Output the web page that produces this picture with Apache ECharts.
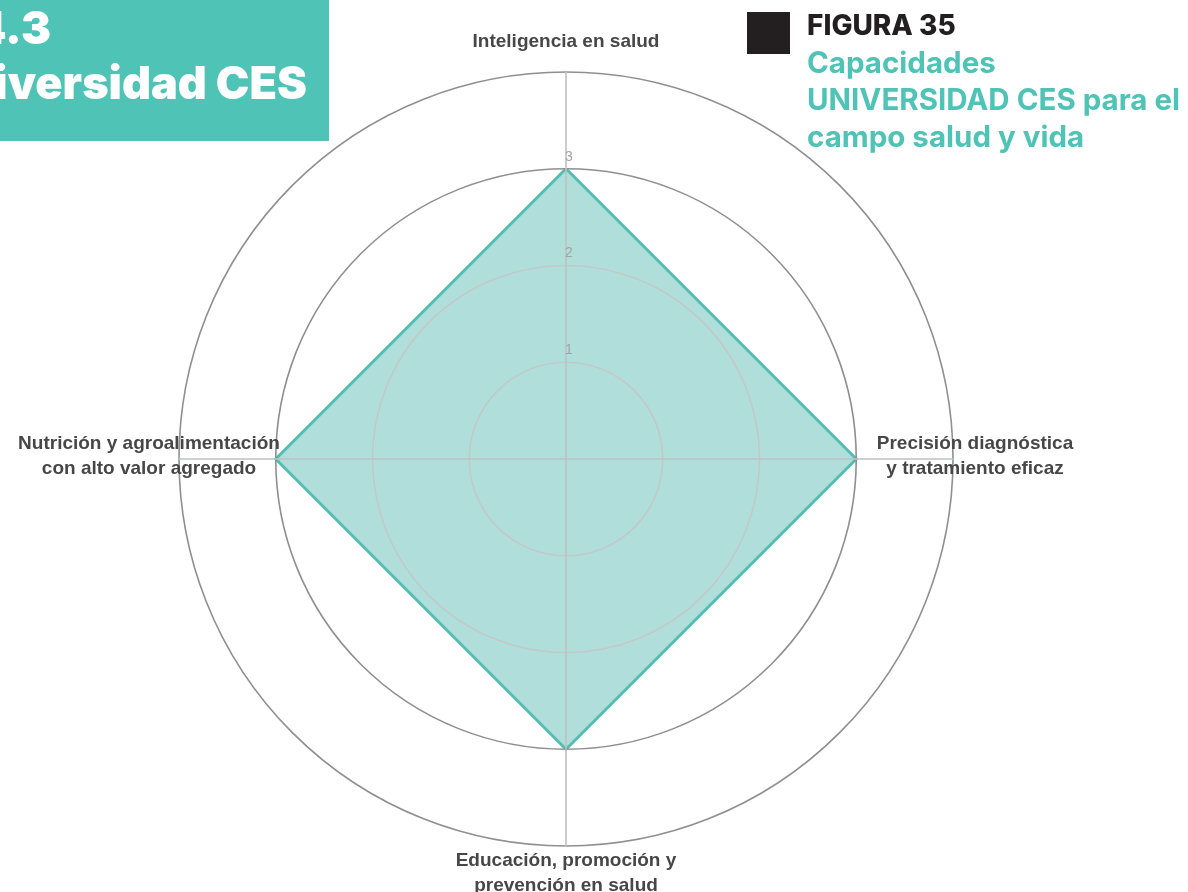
<!DOCTYPE html>
<html>
<head>
<meta charset="utf-8">
<script src="https://cdn.jsdelivr.net/npm/echarts@6/dist/echarts.min.js"></script>
<style>
html,body{margin:0;padding:0;background:#fff;}
#chart{width:1188px;height:892px;}
</style>
</head>
<body>
<div id="chart"></div>
<script>
// ---- data ----
const categories = [
  "Inteligencia en salud",
  "Nutrición y agroalimentación\ncon alto valor agregado",
  "Educación, promoción y\nprevención en salud",
  "Precisión diagnóstica\ny tratamiento eficaz"
];
const values = [3, 3, 3, 3];
const axisMax = 4;
const tickLabels = ["", "1", "2", "3", ""];
const sectionLines = ["4.3", "Universidad CES"];
const figureTitle = "FIGURA 35";
const figureSubtitle = ["Capacidades", "UNIVERSIDAD CES para el", "campo salud y vida"];

const TEAL = "#4fc4b6";
const W = 1188, H = 892;
const cx = 566, cy = 459, R = 387;

const labelPos = [
  {x: cx, y: 42, align: "center"},
  {x: 149, y: 456, align: "center"},
  {x: cx, y: 873, align: "center"},
  {x: 975, y: 456, align: "center"}
];

const chart = echarts.init(document.getElementById("chart"), null, {renderer: "canvas"});

const graphics = [
  {type: "rect", shape: {x: 0, y: 0, width: 329, height: 141}, style: {fill: TEAL}, z: 10},
  {type: "text", x: 51, y: 53, z: 11, style: {text: sectionLines[0], fill: "#fff", font: "900 45px Inter", textAlign: "right", textVerticalAlign: "bottom"}},
  {type: "text", x: 307, y: 108, z: 11, style: {text: sectionLines[1], fill: "#fff", font: "900 45px Inter", textAlign: "right", textVerticalAlign: "bottom"}},
  {type: "rect", shape: {x: 747, y: 12, width: 43, height: 42}, style: {fill: "#231f20"}, z: 10},
  {type: "text", x: 807, y: 41, z: 11, style: {text: figureTitle, fill: "#231f20", font: "800 28px Inter", textAlign: "left", textVerticalAlign: "bottom"}}
];
figureSubtitle.forEach((t, i) => {
  graphics.push({type: "text", x: 807, y: 79 + i * 37, z: 11,
    style: {text: t, fill: TEAL, font: "700 29.5px Inter", textAlign: "left", textVerticalAlign: "bottom"}});
});
categories.forEach((c, i) => {
  graphics.push({type: "text", x: labelPos[i].x, y: labelPos[i].y, z: 11,
    style: {text: c, fill: "#474747", font: "bold 19px 'Liberation Sans', Arial, sans-serif",
      textAlign: labelPos[i].align, textVerticalAlign: "middle", lineHeight: 25}});
});

const option = {
  backgroundColor: "#fff",
  animation: false,
  radar: {
    z: 3,
    center: [cx / W * 100 + "%", cy / H * 100 + "%"],
    radius: R,
    startAngle: 90,
    shape: "circle",
    splitNumber: 4,
    indicator: categories.map((c, i) => {
      const ind = {name: c, min: 0, max: axisMax};
      if (i === 0) {
        ind.axisLabel = {
          show: true, color: "#a3a3a3", fontSize: 14, fontFamily: "Liberation Sans, Arial",
          align: "center", verticalAlign: "bottom", margin: -3, padding: [0, 0, 5, 0],
          showMinLabel: false, showMaxLabel: false,
          formatter: v => tickLabels[Math.round(v)] || ""
        };
      }
      return ind;
    }),
    axisName: {show: false},
    axisLine: {lineStyle: {color: "#bcc2c1", width: 1.6}},
    axisTick: {show: false},
    axisLabel: {show: false},
    splitLine: {lineStyle: {color: ["#c3c9c8", "#c3c9c8", "#c3c9c8", "#8f8f8f", "#8f8f8f"], width: 1.6}},
    splitArea: {show: false}
  },
  series: [{
    type: "radar",
    z: 1,
    symbol: "none",
    lineStyle: {color: "#4dbdb2", width: 3},
    areaStyle: {color: "#62bfb8", opacity: 0.5},
    data: [{value: values, name: "UNIVERSIDAD CES"}]
  }],
  graphic: graphics
};
chart.setOption(option);
</script>
</body>
</html>
